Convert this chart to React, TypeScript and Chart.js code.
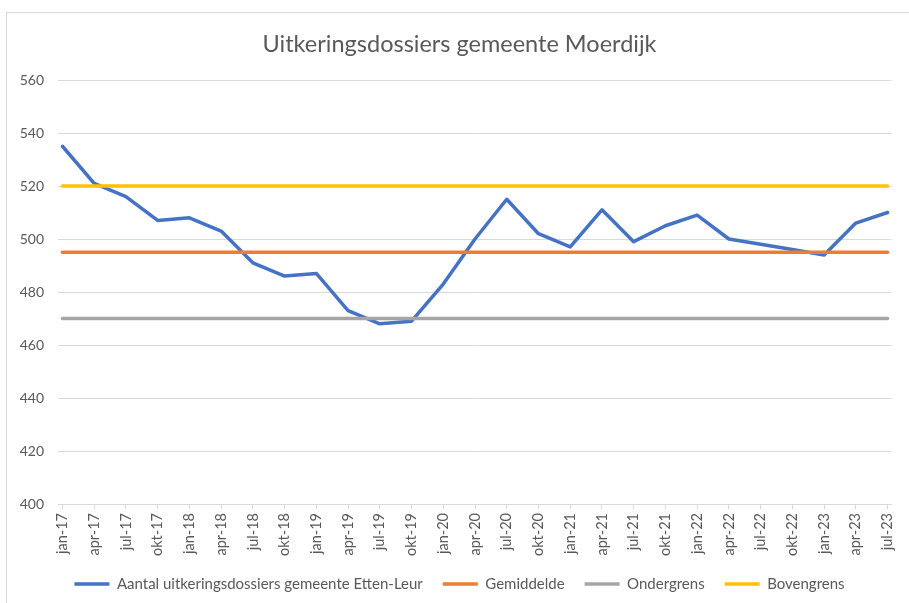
import React, { useEffect, useRef } from "react";
import { Chart, registerables } from "chart.js";

Chart.register(...registerables);

const categories = [
  "jan-17", "apr-17", "jul-17", "okt-17", "jan-18", "apr-18", "jul-18", "okt-18",
  "jan-19", "apr-19", "jul-19", "okt-19", "jan-20", "apr-20", "jul-20", "okt-20",
  "jan-21", "apr-21", "jul-21", "okt-21", "jan-22", "apr-22", "jul-22", "okt-22",
  "jan-23", "apr-23", "jul-23",
];

const dossiers = [
  535, 521, 516, 507, 508, 503, 491, 486, 487, 473, 468, 469, 483, 500, 515, 502,
  497, 511, 499, 505, 509, 500, 498, 496, 494, 506, 510,
];

const gemiddelde = [
  495, 495, 495, 495, 495, 495, 495, 495, 495, 495, 495, 495, 495, 495, 495, 495,
  495, 495, 495, 495, 495, 495, 495, 495, 495, 495, 495,
];

const ondergrens = [
  470, 470, 470, 470, 470, 470, 470, 470, 470, 470, 470, 470, 470, 470, 470, 470,
  470, 470, 470, 470, 470, 470, 470, 470, 470, 470, 470,
];

const bovengrens = [
  520, 520, 520, 520, 520, 520, 520, 520, 520, 520, 520, 520, 520, 520, 520, 520,
  520, 520, 520, 520, 520, 520, 520, 520, 520, 520, 520,
];

const seriesNames = [
  "Aantal uitkeringsdossiers gemeente Etten-Leur",
  "Gemiddelde",
  "Ondergrens",
  "Bovengrens",
];

const title = "Uitkeringsdossiers gemeente Moerdijk";

const FONT = "Lato, 'Noto Sans', sans-serif";
const TEXT = "#595959";
const GRID = "#D9D9D9";

const toPoints = (vals: number[]) => vals.map((y, i) => ({ x: i, y }));

export default function App() {
  const ref = useRef<HTMLCanvasElement | null>(null);

  useEffect(() => {
    if (!ref.current) return;
    const mk = (label: string, data: number[], color: string, order: number) => ({
      label,
      data: toPoints(data),
      borderColor: color,
      backgroundColor: color,
      borderWidth: 3.5,
      borderCapStyle: "round" as const,
      borderJoinStyle: "round" as const,
      pointRadius: 0,
      pointHoverRadius: 0,
      tension: 0,
      fill: false,
      order,
    });
    const chart = new Chart(ref.current, {
      type: "line",
      data: {
        datasets: [
          mk(seriesNames[0], dossiers, "#4472C4", 4),
          mk(seriesNames[1], gemiddelde, "#ED7D31", 3),
          mk(seriesNames[2], ondergrens, "#A5A5A5", 2),
          mk(seriesNames[3], bovengrens, "#FFC000", 1),
        ],
      },
      options: {
        responsive: false,
        animation: false,
        layout: { padding: { left: 19, right: 9, top: 0, bottom: 1.5 } },
        plugins: {
          tooltip: { enabled: false },
          title: {
            display: true,
            text: title,
            color: TEXT,
            font: { family: FONT, size: 23.5, weight: "normal", lineHeight: 1.2 },
            padding: { top: 29.9, bottom: 21.9 },
          },
          legend: {
            position: "bottom",
            labels: {
              color: TEXT,
              font: { family: FONT, size: 15 },
              usePointStyle: true,
              pointStyle: "line",
              pointStyleWidth: 35,
              boxHeight: 4,
              padding: 20,
              sort: (a: any, b: any) => a.datasetIndex - b.datasetIndex,
            },
          },
        },
        scales: {
          x: {
            type: "linear",
            min: -0.14,
            max: 26.12,
            afterBuildTicks: (axis: any) => {
              axis.ticks = categories.map((_, i) => ({ value: i }));
            },
            afterFit: (axis: any) => {
              axis.height = 52.5;
            },
            ticks: {
              autoSkip: false,
              maxRotation: 90,
              minRotation: 90,
              padding: 4,
              color: TEXT,
              font: { family: FONT, size: 14.5 },
              callback: (v: any) => categories[Math.round(Number(v))] ?? "",
            },
            grid: {
              drawOnChartArea: false,
              drawTicks: true,
              tickLength: 5,
              color: GRID,
            },
            border: { display: true, color: GRID, width: 1 },
          },
          y: {
            min: 400,
            max: 560,
            afterFit: (axis: any) => {
              axis.width = 39;
            },
            ticks: {
              stepSize: 20,
              padding: 14,
              color: TEXT,
              font: { family: FONT, size: 14 },
            },
            grid: { color: GRID, drawTicks: false, lineWidth: 1 },
            border: { display: false },
          },
        },
      },
    } as any);
    return () => chart.destroy();
  }, []);

  return (
    <div
      style={{
        position: "fixed",
        left: 0,
        top: 0,
        width: 909,
        height: 603,
        background: "#ffffff",
        overflow: "hidden",
      }}
    >
      <div
        style={{
          position: "absolute",
          left: 6,
          top: 12,
          width: 1000,
          height: 1000,
          border: "1px solid #D9D9D9",
          boxSizing: "border-box",
        }}
      />
      <canvas
        ref={ref}
        width={909}
        height={603}
        style={{ position: "absolute", left: 0, top: 0, width: 909, height: 603 }}
      />
    </div>
  );
}
